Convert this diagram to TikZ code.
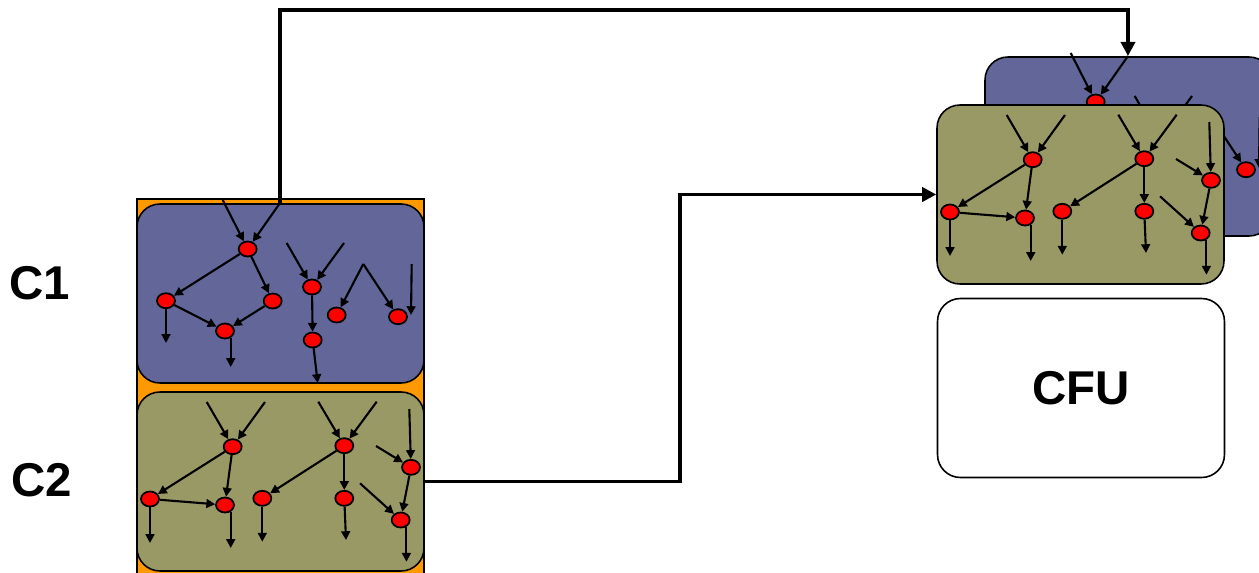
\documentclass[tikz,border=0pt]{standalone}
\usepackage{fontspec}
\setmainfont{Liberation Sans}
\usetikzlibrary{arrows.meta,shapes.geometric}
\definecolor{clpurple}{HTML}{636699}
\definecolor{clolive}{HTML}{999966}
\definecolor{clorange}{HTML}{FF9900}

\begin{document}
\begin{tikzpicture}[x=0.02cm, y=-0.02cm,
  op/.style={ellipse, draw=black, line width=1pt, fill=red,
    minimum width=0.36cm, minimum height=0.3cm, inner sep=0pt},
  clbox/.style={draw=black, line width=0.9pt, rounded corners=13pt,
    minimum width=5.74cm, minimum height=3.58cm, inner sep=0pt},
  dep/.style={-{Triangle[length=5pt,width=5pt]}, line width=1.2pt},
  conn/.style={-{Triangle[length=8pt,width=8pt]}, line width=2pt},
  lbl/.style={font=\bfseries\fontsize{27}{30}\selectfont},
  % cluster one (blue)
  cone/.pic={
    \node[clbox, fill=clpurple] (box) at (143.5,89.5) {};
    \coordinate (inl) at (85.7,-4);
    \coordinate (inr) at (143,-1);
    \node[op] (n1) at (110.7,45) {};
    \node[op] (n2) at (29,96.7) {};
    \node[op] (n3) at (135.7,97) {};
    \node[op] (n4) at (88,127) {};
    \node[op] (n5) at (175,83) {};
    \node[op] (n6) at (175.7,136) {};
    \node[op] (n7) at (199.7,111) {};
    \node[op] (n8) at (261,112.7) {};
    \coordinate (e2) at (29,139);
    \coordinate (e4) at (95,163);
    \coordinate (e6) at (180.7,179);
    \coordinate (i5l) at (149.7,39);
    \coordinate (i5r) at (207,39);
    \coordinate (pk) at (226.3,60);
    \coordinate (vs) at (274.7,60);
    \coordinate (ve) at (274,111);
    \draw[dep] (inl) -- (n1);
    \draw[dep] (inr) -- (n1);
    \draw[dep] (n1) -- (n2);
    \draw[dep] (n1) -- (n3);
    \draw[dep] (n2) -- (n4);
    \draw[dep] (n3) -- (n4);
    \draw[dep] (n2) -- (e2);
    \draw[dep] (n4.-50) -- (n4.-50 |- e4);
    \draw[dep] (i5l) -- (n5);
    \draw[dep] (i5r) -- (n5);
    \draw[dep] (n5) -- (n6);
    \draw[dep] (n6) -- (e6);
    \draw[dep] (pk) -- (n7);
    \draw[dep] (pk) -- (n8);
    \draw[dep] (vs) -- (ve);
  },
  % cluster two (olive)
  ctwo/.pic={
    \node[clbox, fill=clolive] (box) at (143.5,89.5) {};
    \node[op] (m1) at (95.7,54.7) {};
    \node[op] (m2) at (13,107) {};
    \node[op] (m3) at (88,113) {};
    \node[op] (m4) at (125.3,106.3) {};
    \node[op] (m5) at (207.3,53.7) {};
    \node[op] (m6) at (207.3,106.3) {};
    \node[op] (m7) at (274,75.3) {};
    \node[op] (m8) at (263.7,128) {};
    \coordinate (i1l) at (69.7,10);
    \coordinate (i1r) at (128,10);
    \coordinate (i5l) at (181.3,9.7);
    \coordinate (i5r) at (239.7,9.7);
    \coordinate (i7t) at (272.3,17);
    \coordinate (i7l) at (239,54);
    \coordinate (i8l) at (223,91.3);
    \coordinate (e2) at (13,151);
    \coordinate (e3) at (95.7,156);
    \coordinate (e4) at (125.3,149.7);
    \coordinate (e6) at (209,148);
    \coordinate (e8) at (270.7,169.7);
    \draw[dep] (i1l) -- (m1);
    \draw[dep] (i1r) -- (m1);
    \draw[dep] (m1) -- (m2);
    \draw[dep] (m1) -- (m3);
    \draw[dep] (m2) -- (m3);
    \draw[dep] (m2) -- (e2);
    \draw[dep] (m3.-50) -- (m3.-50 |- e3);
    \draw[dep] (i5l) -- (m5);
    \draw[dep] (i5r) -- (m5);
    \draw[dep] (m5) -- (m4);
    \draw[dep] (m5) -- (m6);
    \draw[dep] (m4) -- (e4);
    \draw[dep] (m6) -- (e6);
    \draw[dep] (i7t) -- (m7);
    \draw[dep] (i7l) -- (m7);
    \draw[dep] (m7) -- (m8);
    \draw[dep] (i8l) -- (m8);
    \draw[dep] (m8.-50) -- (m8.-50 |- e8);
  }
]
  \clip (0,0) rectangle (1259,572);
  % left side: clustered schedule
  \draw[fill=clorange, line width=0.9pt] (137,199) rectangle (424,580);
  \pic (L1) at (137,204) {cone};
  \pic (L2) at (137,392) {ctwo};
  \node[lbl] (c1lbl) at (40,283) {C1};
  \node[lbl] (c2lbl) at (42,480) {C2};

  % right side: stacked configurations and CFU
  \pic (R1) at (985,57) {cone};
  \pic (R2) at (937,105) {ctwo};
  \node[clbox, fill=white, lbl] (cfu) at (1081,388) {CFU};

  % connectors
  \coordinate (top) at (0,10);
  \coordinate (jog) at (680,0);
  \draw[conn] (L1inr) -- (L1inr |- top) -| (R1inr);
  \draw[conn] (L2box.east) -| (jog |- R2box.west) -- (R2box.west);
\end{tikzpicture}
\end{document}
